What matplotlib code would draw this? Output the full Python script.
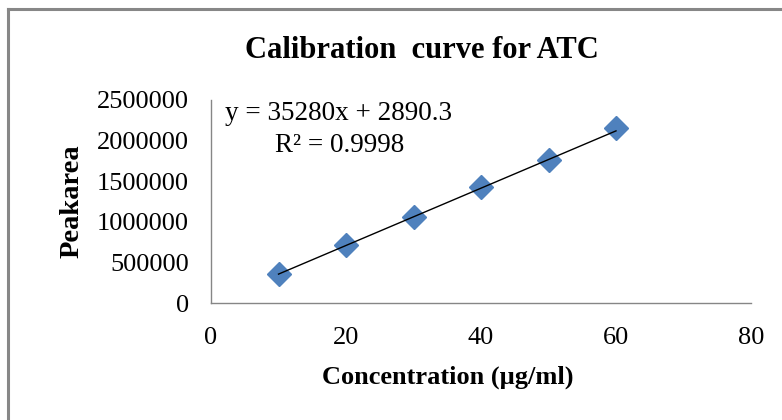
import matplotlib
matplotlib.use("Agg")
import matplotlib.pyplot as plt
import numpy as np
from matplotlib.lines import Line2D

conc = [10, 20, 30, 40, 50, 60]
peak_area = [357000, 718000, 1063000, 1432000, 1761000, 2155000]
slope = 35280
intercept = 2890.3
x_ticks = [0, 20, 40, 60, 80]
y_ticks = [0, 500000, 1000000, 1500000, 2000000, 2500000]

plt.rcParams['font.family'] = ['Liberation Serif', 'DejaVu Serif']

fig = plt.figure(figsize=(7.82, 4.2), dpi=100)
ax = fig.add_axes([211/782, 1-303/420, (751-211)/782, (303-100)/420])

ax.plot(conc, peak_area, linestyle='none', marker='D', markersize=12.5,
        color='#4F81BD', markeredgecolor='#4F81BD', zorder=3, clip_on=False)
xt = np.array([conc[0], conc[-1]])
ax.plot(xt, slope*xt + intercept, color='black', linewidth=1.0, zorder=4)

ax.set_xlim(0, 80)
ax.set_ylim(0, 2500000)
ax.set_xticks(x_ticks)
ax.set_yticks(y_ticks)
ax.set_xticklabels([str(v) for v in x_ticks])
ax.set_yticklabels([str(v) for v in y_ticks])
ax.tick_params(axis='both', length=0, labelsize=19)
ax.tick_params(axis='y', pad=16)
ax.tick_params(axis='x', pad=17)
for s in ['top', 'right']:
    ax.spines[s].set_visible(False)
for s in ['left', 'bottom']:
    ax.spines[s].set_color('#868686')
    ax.spines[s].set_linewidth(1.0)

fig.text(422/782, 1-51/420, 'Calibration  curve for ATC', ha='center', va='center',
         fontsize=22, fontweight='bold')
fig.text(72/782, 1-201/420, 'Peakarea', rotation=90, ha='center', va='center',
         fontsize=20.5, fontweight='bold')
fig.text(448/782, 1-377/420, 'Concentration (µg/ml)', ha='center', va='center',
         fontsize=19, fontweight='bold')

fig.text(225/782, 1-114/420, 'y = 35280x + 2890.3', ha='left', va='center', fontsize=19.5)
fig.text(275/782, 1-145/420, 'R² = 0.9998', ha='left', va='center', fontsize=19.5)

# chart area border (top and left visible)
fig.add_artist(Line2D([8/782, 1.0], [1-9/420, 1-9/420], color='#878787', linewidth=2.2,
                      transform=fig.transFigure))
fig.add_artist(Line2D([8/782, 8/782], [0, 1-9/420], color='#878787', linewidth=2.2,
                      transform=fig.transFigure))

fig.savefig('out.png', dpi=100, facecolor='white')
